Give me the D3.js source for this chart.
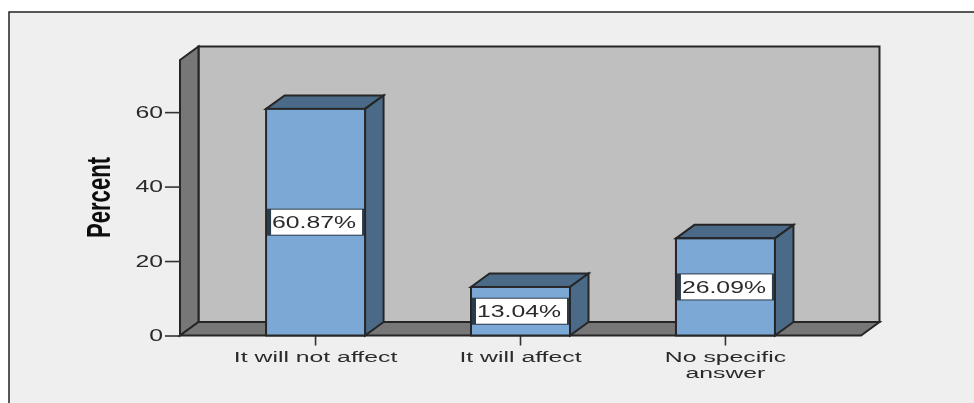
<!DOCTYPE html>
<html>
<head>
<meta charset="utf-8">
<script src="https://cdn.jsdelivr.net/npm/d3@7"></script>
<style>
body { margin: 0; background: #fff; }
text { font-family: "Liberation Sans", Arial, sans-serif; fill: #2b2b2b; }
</style>
</head>
<body>
<svg id="chart" width="974" height="403"></svg>
<script>
var categories = ["It will not affect", "It will affect", "No specific answer"];
var categoryLines = [["It will not affect"], ["It will affect"], ["No specific", "answer"]];
var percents = [60.87, 13.04, 26.09];
var yTicks = [0, 20, 40, 60];

var width = 974, height = 403;
var dx = 18.5, dy = 13.5;   // 3d depth offset
var stretch = 1.55;         // the source picture is stretched sideways
var line = "#262626";

var svg = d3.select("#chart");
var soft = svg.append("defs").append("filter").attr("id", "soft");
soft.append("feGaussianBlur").attr("stdDeviation", 0.5);

var g = svg.append("g").attr("filter", "url(#soft)");

var x = d3.scaleBand().domain(categories).range([180, 861]).paddingInner(0.517).paddingOuter(0.42);
var y = d3.scaleLinear().domain([0, 74]).range([335.5, 60]);

function poly(pts) {
	return "M" + pts.map(function (p) { return p[0] + "," + p[1]; }).join("L") + "Z";
}

// outer frame, only top and left are visible
g.append("rect").attr("x", 9).attr("y", 12).attr("width", width + 20).attr("height", height)
	.attr("fill", "#efefef").attr("stroke", "#222").attr("stroke-width", 1.5);

var x0 = x.range()[0], x1 = x.range()[1], y0 = y(0), yTop = y.range()[1];

// back wall, side wall, floor
g.append("path").attr("d", poly([[x0 + dx, yTop - dy], [x1 + dx, yTop - dy], [x1 + dx, y0 - dy], [x0 + dx, y0 - dy]]))
	.attr("fill", "#bfbfbf").attr("stroke", line).attr("stroke-width", 2);
g.append("path").attr("d", poly([[x0, yTop], [x0 + dx, yTop - dy], [x0 + dx, y0 - dy], [x0, y0]]))
	.attr("fill", "#777").attr("stroke", line).attr("stroke-width", 2);
g.append("path").attr("d", poly([[x0, y0], [x0 + dx, y0 - dy], [x1 + dx, y0 - dy], [x1, y0]]))
	.attr("fill", "#777").attr("stroke", line).attr("stroke-width", 2);

// axes
g.append("g").attr("transform", "translate(" + x0 + ",0)")
	.call(d3.axisLeft(y).tickValues(yTicks).tickSize(15).tickFormat(""));
g.append("g").attr("transform", "translate(0," + y0 + ")")
	.call(d3.axisBottom(x).tickSize(10).tickFormat(""));
g.selectAll(".domain").remove();
g.selectAll(".tick line").attr("stroke", "#333").attr("stroke-width", 1.6);

function wide(sel, px, py, sx) {
	return sel.attr("transform", "translate(" + px + "," + py + ") scale(" + (sx || stretch) + ",1)");
}

yTicks.forEach(function (t) {
	wide(g.append("text"), x0 - 17, y(t) + 5.7)
		.attr("text-anchor", "end").attr("font-size", 16).text(t);
});

// bars
var bars = g.selectAll(".bar").data(categories).enter().append("g").attr("class", "bar");
var bw = x.bandwidth();

bars.append("path")
	.attr("d", function (d, i) {
		var l = x(d), t = y(percents[i]);
		return poly([[l, t], [l + dx, t - dy], [l + bw + dx, t - dy], [l + bw, t]]);
	})
	.attr("fill", "#4b6a88").attr("stroke", line).attr("stroke-width", 2);
bars.append("path")
	.attr("d", function (d, i) {
		var l = x(d) + bw, t = y(percents[i]);
		return poly([[l, t], [l + dx, t - dy], [l + dx, y0 - dy], [l, y0]]);
	})
	.attr("fill", "#4b6a88").attr("stroke", line).attr("stroke-width", 2);
bars.append("rect")
	.attr("x", function (d) { return x(d); })
	.attr("y", function (d, i) { return y(percents[i]); })
	.attr("width", bw)
	.attr("height", function (d, i) { return y0 - y(percents[i]); })
	.attr("fill", "#7ba8d6").attr("stroke", line).attr("stroke-width", 2);

// value labels, dark backing shows as a thick edge on the sides
bars.append("rect")
	.attr("x", function (d) { return x(d) + 1; })
	.attr("y", function (d, i) { return (y0 + y(percents[i])) / 2 - 13.5; })
	.attr("width", bw - 2)
	.attr("height", 27)
	.attr("fill", "#2b3a48");
bars.append("rect")
	.attr("x", function (d) { return x(d) + 5; })
	.attr("y", function (d, i) { return (y0 + y(percents[i])) / 2 - 12.5; })
	.attr("width", bw - 8)
	.attr("height", 25)
	.attr("fill", "#fff");
bars.each(function (d, i) {
	wide(d3.select(this).append("text"), x(d) + bw / 2 - 1.5, (y0 + y(percents[i])) / 2 + 5.7)
		.attr("text-anchor", "middle").attr("font-size", 16)
		.text(percents[i].toFixed(2) + "%");
});

// category labels
categories.forEach(function (c, i) {
	categoryLines[i].forEach(function (s, j) {
		wide(g.append("text"), x(c) + bw / 2, 361.5 + j * 16.2, 1.71)
			.attr("text-anchor", "middle").attr("font-size", 14.5).text(s);
	});
});

// y title
g.append("text")
	.attr("transform", "translate(110,197.5) rotate(-90) scale(0.65,1)")
	.attr("text-anchor", "middle").attr("font-size", 34).attr("font-weight", "bold")
	.style("fill", "#111").text("Percent");
</script>
</body>
</html>
